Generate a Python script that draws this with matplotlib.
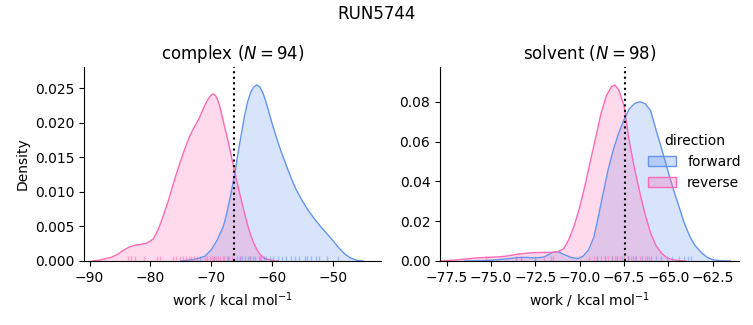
import matplotlib.pyplot as plt
from matplotlib.colors import to_rgb
from matplotlib.patches import Patch

FWD_COLOR = "#6495ED"
REV_COLOR = "#FF69B4"

# complex phase: density curves
cx_rev_x = [-89.5, -88.5, -87.5, -86.5, -85.5, -84.5, -83.5, -82.5, -81.5, -80.5, -79.5,
            -79.0, -78.5, -78.0, -77.5, -77.0, -76.5, -76.0, -75.5, -75.0, -74.5, -74.0,
            -73.5, -73.0, -72.5, -72.0, -71.5, -71.0, -70.5, -70.0, -69.7, -69.3, -69.0,
            -68.6, -68.2, -67.8, -67.5, -67.0, -66.5, -66.0, -65.5, -65.0, -64.5, -64.0,
            -63.5, -63.0, -62.5, -62.0, -61.5, -61.0, -60.0, -59.0]
cx_rev_d = [0.0, 0.0001, 0.0003, 0.0005, 0.0009, 0.0015, 0.0020, 0.0023, 0.0024, 0.0026, 0.0032,
            0.0040, 0.0050, 0.0062, 0.0075, 0.0088, 0.0103, 0.0118, 0.0132, 0.0145, 0.0158, 0.0170,
            0.0181, 0.0190, 0.0198, 0.0206, 0.0216, 0.0226, 0.0234, 0.0240, 0.0242, 0.0240, 0.0235,
            0.0225, 0.0210, 0.0195, 0.0185, 0.0165, 0.0145, 0.0125, 0.0105, 0.0087, 0.0069, 0.0052,
            0.0038, 0.0026, 0.0017, 0.0010, 0.0006, 0.0003, 0.0001, 0.0]
cx_fwd_x = [-75.0, -74.0, -73.0, -72.0, -71.0, -70.0, -69.5, -69.0, -68.5, -68.0, -67.5,
            -67.0, -66.5, -66.0, -65.5, -65.0, -64.5, -64.0, -63.5, -63.0, -62.5, -62.0,
            -61.5, -61.0, -60.5, -60.0, -59.5, -59.0, -58.5, -58.0, -57.5, -57.0, -56.5,
            -56.0, -55.0, -54.0, -53.0, -52.0, -51.0, -50.0, -49.0, -48.0, -47.0, -46.0, -45.0]
cx_fwd_d = [0.0, 0.0001, 0.0002, 0.0004, 0.0007, 0.0016, 0.0023, 0.0030, 0.0040, 0.0050, 0.0066,
            0.0086, 0.0108, 0.0132, 0.0160, 0.0185, 0.0210, 0.0230, 0.0244, 0.0252, 0.0255, 0.0252,
            0.0244, 0.0231, 0.0216, 0.0200, 0.0186, 0.0172, 0.0159, 0.0147, 0.0135, 0.0124, 0.0113,
            0.0103, 0.0087, 0.0073, 0.0061, 0.0050, 0.0040, 0.0030, 0.0019, 0.0010, 0.0004, 0.0001, 0.0]
cx_rev_rug = [-83.7, -83.2, -82.5, -81.0, -78.9, -78.4, -76.3, -75.8, -75.1, -74.6, -74.1,
              -73.7, -73.3, -72.8, -72.3, -71.0, -70.6, -70.2, -69.9, -69.5, -69.2, -68.8,
              -68.5, -68.1, -67.8, -67.4, -67.0, -66.6, -65.3, -63.6, -62.0]
cx_fwd_rug = [-71.8, -69.5, -67.3, -65.8, -65.3, -64.9, -64.4, -64.0, -63.6, -63.1, -62.7,
              -62.2, -61.8, -61.3, -60.9, -60.3, -59.8, -59.0, -58.4, -57.6, -56.8, -56.2,
              -55.5, -54.6, -54.3, -53.6, -52.7, -52.2, -51.0, -49.2]
cx_estimate = -66.3

# solvent phase
sv_rev_x = [-78.0, -77.5, -77.0, -76.5, -76.0, -75.5, -75.0, -74.5, -74.0, -73.5, -73.0,
            -72.5, -72.0, -71.5, -71.2, -70.9, -70.6, -70.3, -70.0, -69.7, -69.4, -69.1,
            -68.8, -68.5, -68.2, -68.0, -67.8, -67.5, -67.2, -66.9, -66.6, -66.3, -66.0,
            -65.7, -65.4, -65.1, -64.8, -64.4, -64.0]
sv_rev_d = [0.0, 0.0002, 0.0005, 0.0009, 0.0014, 0.0017, 0.0019, 0.0021, 0.0026, 0.0034, 0.0039,
            0.0042, 0.0043, 0.0043, 0.0047, 0.0062, 0.0110, 0.0180, 0.0270, 0.0380, 0.0500, 0.0620,
            0.0740, 0.0830, 0.0877, 0.0884, 0.0860, 0.0780, 0.0600, 0.0460, 0.0340, 0.0230, 0.0140,
            0.0078, 0.0040, 0.0018, 0.0007, 0.0002, 0.0]
sv_fwd_x = [-76.5, -75.5, -75.0, -74.5, -74.0, -73.5, -73.0, -72.5, -72.0, -71.5, -71.2,
            -70.9, -70.5, -70.1, -69.8, -69.5, -69.2, -69.0, -68.7, -68.4, -68.1, -67.8,
            -67.5, -67.2, -66.9, -66.6, -66.3, -66.0, -65.7, -65.4, -65.0, -64.7, -64.4,
            -64.1, -63.8, -63.5, -63.1, -62.8, -62.5, -62.0, -61.5]
sv_fwd_d = [0.0, 0.0002, 0.0004, 0.0007, 0.0012, 0.0017, 0.0018, 0.0015, 0.0020, 0.0045, 0.0045,
            0.0033, 0.0018, 0.0012, 0.0025, 0.0055, 0.0120, 0.0200, 0.0330, 0.0457, 0.0560, 0.0642,
            0.0710, 0.0765, 0.0792, 0.0800, 0.0790, 0.0755, 0.0660, 0.0570, 0.0445, 0.0355, 0.0273,
            0.0190, 0.0125, 0.0078, 0.0039, 0.0018, 0.0006, 0.0001, 0.0]
sv_rev_rug = [-75.3, -73.6, -73.3, -72.0, -71.5, -69.5, -69.2, -69.0, -68.8, -68.6, -68.4,
              -68.2, -68.0, -67.9, -67.7, -67.5, -67.3, -67.1, -66.9, -66.6, -66.3, -66.1]
sv_fwd_rug = [-73.6, -73.3, -72.5, -71.6, -69.0, -68.6, -68.2, -67.9, -67.6, -67.3, -67.0,
              -66.8, -66.5, -66.2, -66.0, -65.7, -65.4, -65.1, -64.8, -64.4, -64.1, -63.9,
              -63.7]
sv_estimate = -67.44


def draw_panel(ax, fwd_x, fwd_d, rev_x, rev_d, fwd_rug, rev_rug, estimate):
    for xs, ds, c in [(fwd_x, fwd_d, FWD_COLOR), (rev_x, rev_d, REV_COLOR)]:
        ax.fill_between(xs, ds, color=c, alpha=0.25, linewidth=0)
        ax.plot(xs, ds, color=c, linewidth=1, solid_joinstyle="round")
    trans = ax.get_xaxis_transform()
    ax.vlines(fwd_rug, 0, 0.025, color=FWD_COLOR, alpha=0.5, linewidth=1, transform=trans)
    ax.vlines(rev_rug, 0, 0.025, color=REV_COLOR, alpha=0.5, linewidth=1, transform=trans)
    ax.axvline(estimate, color="black", linestyle=":", linewidth=1.5)
    ax.spines["top"].set_visible(False)
    ax.spines["right"].set_visible(False)
    ax.set_xlabel("work / kcal mol$^{-1}$")


fig = plt.figure(figsize=(7.53, 3.25), dpi=100)
ax1 = fig.add_axes([0.1116, 0.197, 0.394, 0.597])
ax2 = fig.add_axes([0.5843, 0.197, 0.397, 0.597])

draw_panel(ax1, cx_fwd_x, cx_fwd_d, cx_rev_x, cx_rev_d, cx_fwd_rug, cx_rev_rug, cx_estimate)
ax1.set_xlim(-90.9, -42.1)
ax1.set_ylim(0, 0.0281)
ax1.set_xticks([-90, -80, -70, -60, -50])
ax1.set_ylabel("Density")
ax1.set_title("complex ($N = 94$)")

draw_panel(ax2, sv_fwd_x, sv_fwd_d, sv_rev_x, sv_rev_d, sv_fwd_rug, sv_rev_rug, sv_estimate)
ax2.set_xlim(-77.88, -61.02)
ax2.set_ylim(0, 0.0975)
ax2.set_xticks([-77.5, -75.0, -72.5, -70.0, -67.5, -65.0, -62.5])
ax2.set_title("solvent ($N = 98$)")

handles = [Patch(facecolor=(*to_rgb(c), 0.3), edgecolor=c, label=lab)
           for c, lab in [(FWD_COLOR, "forward"), (REV_COLOR, "reverse")]]
ax2.legend(handles=handles, title="direction", frameon=False,
           loc="center left", bbox_to_anchor=(0.655, 0.51))

fig.suptitle("RUN5744", y=0.985)
fig.savefig("out.png", dpi=100)
